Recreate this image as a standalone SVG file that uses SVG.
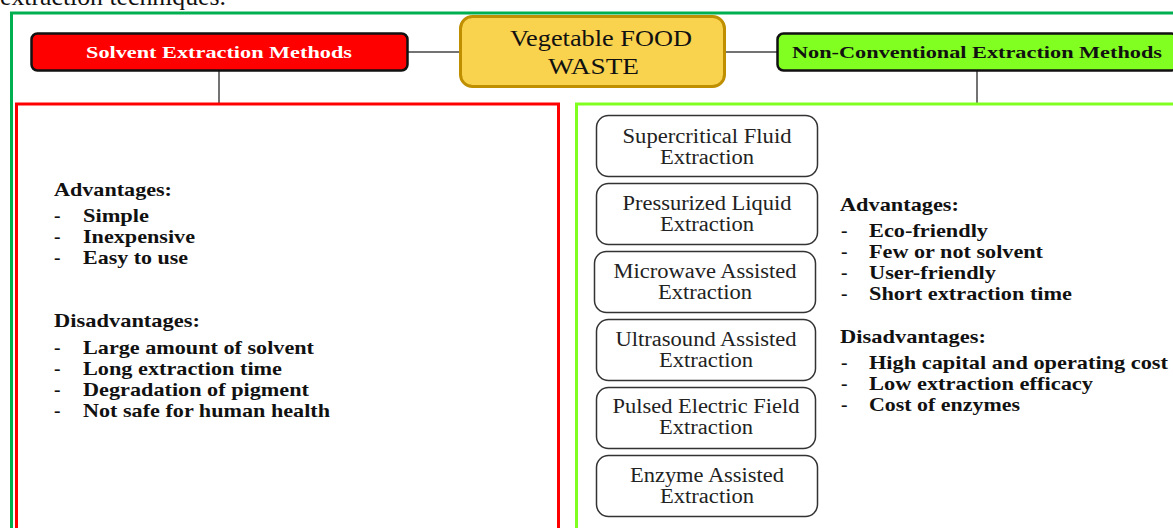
<svg xmlns="http://www.w3.org/2000/svg" width="1173" height="528" viewBox="0 0 1173 528">
<style>
.serif{font-family:"Liberation Serif","Times New Roman",serif}
.b{font-weight:bold}
.lst{font-family:"Liberation Serif","Times New Roman",serif;font-weight:bold;font-size:19.5px;fill:#111}
.box{font-family:"Liberation Serif","Times New Roman",serif;font-size:20px;fill:#222;text-anchor:middle}
.mbox{fill:#fff;stroke:#333;stroke-width:1.5}
.conn{stroke:#444;stroke-width:1.5;fill:none}
</style>
<rect x="0" y="0" width="1173" height="528" fill="#fff"/>
<text class="serif" x="0" y="5" font-size="26" textLength="226" lengthAdjust="spacingAndGlyphs" fill="#111">extraction techniques.</text>
<rect id="outer-frame" x="11.5" y="13" width="1200" height="560" fill="none" stroke="#00b050" stroke-width="3"/>
<g id="connectors">
<line class="conn" x1="408" y1="52" x2="460" y2="52"/>
<line class="conn" x1="725" y1="52" x2="778" y2="52"/>
<line class="conn" x1="219" y1="71" x2="219" y2="104"/>
<line class="conn" x1="977" y1="71" x2="977" y2="104"/>
</g>
<g id="node-vegetable">
<rect x="460.5" y="16.5" width="264" height="70" rx="12" fill="#f9d24e" stroke="#bf8f00" stroke-width="3"/>
<text class="serif" x="601" y="46" font-size="24" text-anchor="middle" textLength="182" lengthAdjust="spacingAndGlyphs" fill="#111">Vegetable FOOD</text>
<text class="serif" x="593.5" y="74" font-size="24" text-anchor="middle" textLength="91" lengthAdjust="spacingAndGlyphs" fill="#111">WASTE</text>
</g>
<g id="node-solvent">
<rect x="31.5" y="33.5" width="376" height="37" rx="6" fill="#ff0000" stroke="#111" stroke-width="2.5"/>
<text class="serif b" x="219" y="58" font-size="17.5" text-anchor="middle" textLength="266" lengthAdjust="spacingAndGlyphs" fill="#fff">Solvent Extraction Methods</text>
</g>
<g id="node-nonconv">
<rect x="777.5" y="33.5" width="400" height="37" rx="6" fill="#80ff20" stroke="#111" stroke-width="2.5"/>
<text class="serif b" x="977" y="58" font-size="17.5" text-anchor="middle" textLength="370" lengthAdjust="spacingAndGlyphs" fill="#111">Non-Conventional Extraction Methods</text>
</g>
<g id="panel-solvent">
<rect x="16.5" y="104" width="542" height="440" fill="none" stroke="#ff0000" stroke-width="3"/>
<text class="lst" x="54" y="196" textLength="118" lengthAdjust="spacingAndGlyphs">Advantages:</text>
<text class="lst" x="54" y="222">-</text><text class="lst" x="83" y="222" textLength="66" lengthAdjust="spacingAndGlyphs">Simple</text>
<text class="lst" x="54" y="243">-</text><text class="lst" x="83" y="243" textLength="112" lengthAdjust="spacingAndGlyphs">Inexpensive</text>
<text class="lst" x="54" y="264">-</text><text class="lst" x="83" y="264" textLength="105" lengthAdjust="spacingAndGlyphs">Easy to use</text>
<text class="lst" x="54" y="327" textLength="146" lengthAdjust="spacingAndGlyphs">Disadvantages:</text>
<text class="lst" x="54" y="354">-</text><text class="lst" x="83" y="354" textLength="231" lengthAdjust="spacingAndGlyphs">Large amount of solvent</text>
<text class="lst" x="54" y="375">-</text><text class="lst" x="83" y="375" textLength="199" lengthAdjust="spacingAndGlyphs">Long extraction time</text>
<text class="lst" x="54" y="396">-</text><text class="lst" x="83" y="396" textLength="226" lengthAdjust="spacingAndGlyphs">Degradation of pigment</text>
<text class="lst" x="54" y="417">-</text><text class="lst" x="83" y="417" textLength="247" lengthAdjust="spacingAndGlyphs">Not safe for human health</text>
</g>
<g id="panel-nonconv">
<rect x="576.5" y="104" width="640" height="440" fill="none" stroke="#80ff20" stroke-width="3"/>
<text class="lst" x="840" y="211" textLength="119" lengthAdjust="spacingAndGlyphs">Advantages:</text>
<text class="lst" x="841" y="237">-</text><text class="lst" x="869" y="237" textLength="119" lengthAdjust="spacingAndGlyphs">Eco-friendly</text>
<text class="lst" x="841" y="258">-</text><text class="lst" x="869" y="258" textLength="174" lengthAdjust="spacingAndGlyphs">Few or not solvent</text>
<text class="lst" x="841" y="279">-</text><text class="lst" x="869" y="279" textLength="127" lengthAdjust="spacingAndGlyphs">User-friendly</text>
<text class="lst" x="841" y="300">-</text><text class="lst" x="869" y="300" textLength="203" lengthAdjust="spacingAndGlyphs">Short extraction time</text>
<text class="lst" x="840" y="343" textLength="146" lengthAdjust="spacingAndGlyphs">Disadvantages:</text>
<text class="lst" x="841" y="369">-</text><text class="lst" x="869" y="369" textLength="299" lengthAdjust="spacingAndGlyphs">High capital and operating cost</text>
<text class="lst" x="841" y="390">-</text><text class="lst" x="869" y="390" textLength="224" lengthAdjust="spacingAndGlyphs">Low extraction efficacy</text>
<text class="lst" x="841" y="411">-</text><text class="lst" x="869" y="411" textLength="151" lengthAdjust="spacingAndGlyphs">Cost of enzymes</text>
</g>
<g id="node-sfe">
<rect class="mbox" x="596.5" y="115.5" width="221" height="61" rx="12"/>
<text class="box" x="707" y="143" textLength="169" lengthAdjust="spacingAndGlyphs">Supercritical Fluid</text>
<text class="box" x="707" y="164" textLength="94" lengthAdjust="spacingAndGlyphs">Extraction</text>
</g>
<g id="node-ple">
<rect class="mbox" x="596.5" y="183.5" width="221" height="61" rx="12"/>
<text class="box" x="707" y="210" textLength="169" lengthAdjust="spacingAndGlyphs">Pressurized Liquid</text>
<text class="box" x="707" y="231" textLength="94" lengthAdjust="spacingAndGlyphs">Extraction</text>
</g>
<g id="node-mae">
<rect class="mbox" x="594.5" y="251.5" width="221" height="61" rx="12"/>
<text class="box" x="705" y="278" textLength="183" lengthAdjust="spacingAndGlyphs">Microwave Assisted</text>
<text class="box" x="705" y="299" textLength="94" lengthAdjust="spacingAndGlyphs">Extraction</text>
</g>
<g id="node-uae">
<rect class="mbox" x="596.5" y="319.5" width="219" height="61" rx="12"/>
<text class="box" x="706" y="346" textLength="181" lengthAdjust="spacingAndGlyphs">Ultrasound Assisted</text>
<text class="box" x="706" y="367" textLength="94" lengthAdjust="spacingAndGlyphs">Extraction</text>
</g>
<g id="node-pef">
<rect class="mbox" x="596.5" y="387.5" width="219" height="61" rx="12"/>
<text class="box" x="706" y="413" textLength="187" lengthAdjust="spacingAndGlyphs">Pulsed Electric Field</text>
<text class="box" x="706" y="434" textLength="94" lengthAdjust="spacingAndGlyphs">Extraction</text>
</g>
<g id="node-eae">
<rect class="mbox" x="596.5" y="455.5" width="221" height="61" rx="12"/>
<text class="box" x="707" y="482" textLength="154" lengthAdjust="spacingAndGlyphs">Enzyme Assisted</text>
<text class="box" x="707" y="503" textLength="94" lengthAdjust="spacingAndGlyphs">Extraction</text>
</g>
</svg>
